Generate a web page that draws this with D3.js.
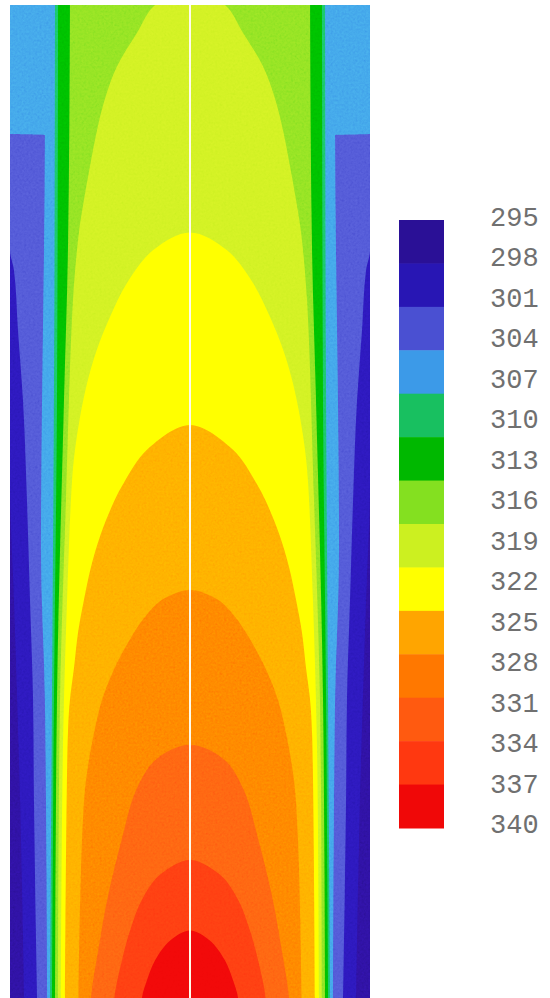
<!DOCTYPE html>
<html>
<head>
<meta charset="utf-8">
<script src="https://cdn.jsdelivr.net/npm/d3@7"></script>
<style>
  html, body { margin: 0; padding: 0; background: #fff; }
  svg { display: block; }
</style>
</head>
<body>
<div id="chart"></div>
<script>
// legend tick labels (temperature, K)
var tickLabels = [295, 298, 301, 304, 307, 310, 313, 316, 319, 322, 325, 328, 331, 334, 337, 340];

// colour bands, coldest first (as in the legend bar)
var bandColors = ["#2a1096", "#2816b4", "#4a50d2", "#3c9ae8", "#18c060", "#00b800", "#84e020",
                  "#ccf020", "#ffff00", "#ffa500", "#ff7800", "#ff5a10", "#ff3810", "#f00808"];

// contour edges: [z = axial position (0 top .. 100 bottom), r = half-width in % of channel]
// each edge bounds the region warmer than the band below it
var indigoEdge  = [[0, 100], [48, 100], [60, 97.8], [80, 94.4], [100, 92.2]];
var violetEdge  = [[0, 100], [24.7, 100], [26.7, 97.8], [32.7, 95.6], [39.8, 92.8], [49.8, 90.6], [59.9, 88.9], [70, 87.2], [80, 86.7], [100, 85]];
var skyEdge     = [[0, 100], [13, 100], [13.1, 80.6], [24.7, 81.1], [39.8, 82.2], [55, 82.8], [70, 80.6], [100, 79.4]];
var tealEdge    = [[0, 75], [39.8, 75.6], [70, 76.7], [100, 77.8]];
var greenEdge   = [[0, 73.3], [39.8, 73.9], [70, 75.6], [100, 76.7]];
var limeEdge    = [[0, 66.7], [24.7, 67.8], [39.8, 70], [70, 73.9], [100, 75]];
// domes (apex first)
var paleLimeEdge  = [[-1.3, 0], [0, 19.4], [2.8, 29.4], [6.2, 40.6], [9.6, 47.5], [12.9, 52], [16.3, 55.6], [19.6, 58.9], [22.9, 61.7], [29.7, 65], [49.8, 68.9], [70, 72.2], [100, 73.3]];
var yellowEdge    = [[22.9, 0], [24.7, 20.6], [28, 35], [31.4, 44.4], [34.7, 51.7], [38.1, 57.2], [41.5, 61.1], [44.8, 63.9], [48.1, 65.6], [59.9, 68.3], [75, 70.6], [100, 71.7]];
var amberEdge     = [[42.3, 0], [44.8, 23.9], [48.1, 36.7], [49.8, 41.7], [53.2, 49.4], [56.6, 55], [59.9, 58.9], [63.2, 62.2], [66.7, 64.4], [70, 66.7], [73.3, 67.8], [100, 69.4]];
var orangeEdge    = [[58.9, 0], [59.9, 15.6], [61.6, 25], [63.2, 31.1], [66.7, 41.7], [70, 48.9], [73.3, 53.3], [78.1, 57.8], [84.1, 60], [100, 62]];
var redOrangeEdge = [[74.5, 0], [76, 19], [79.1, 30], [84.1, 38], [90.1, 46], [95.2, 51], [100, 55]];
var scarletEdge   = [[86.1, 0], [87.6, 16.7], [90.1, 26.7], [93.2, 33.3], [96.2, 37.8], [100, 42]];
var redEdge       = [[93.2, 0], [94.2, 11], [96.2, 19.4], [98.2, 23.9], [100, 26.7]];

var wallEdges = [indigoEdge, violetEdge, skyEdge, tealEdge, greenEdge, limeEdge];
var domeEdges = [paleLimeEdge, yellowEdge, amberEdge, orangeEdge, redOrangeEdge, scarletEdge, redEdge];

var width = 550, height = 998;

var svg = d3.select("#chart").append("svg")
    .attr("width", width)
    .attr("height", height);

var xScale = d3.scaleLinear().domain([-100, 100]).range([10, 370]);
var yScale = d3.scaleLinear().domain([0, 100]).range([5, 998]);

var defs = svg.append("defs");
defs.append("clipPath").attr("id", "plot")
  .append("rect")
    .attr("x", xScale(-100))
    .attr("y", yScale(0))
    .attr("width", xScale(100) - xScale(-100))
    .attr("height", yScale(100) - yScale(0));

// speckle like the scanned original
var grain = defs.append("filter").attr("id", "grain")
    .attr("x", 0).attr("y", 0).attr("width", 1).attr("height", 1);
grain.append("feTurbulence")
    .attr("type", "fractalNoise")
    .attr("baseFrequency", 0.45)
    .attr("numOctaves", 2)
    .attr("seed", 7);
grain.append("feColorMatrix")
    .attr("type", "matrix")
    .attr("values", "0.33 0.33 0.33 0 0  0.33 0.33 0.33 0 0  0.33 0.33 0.33 0 0  0 0 0 0 1");

var field = svg.append("g").attr("clip-path", "url(#plot)");

// coldest band as background
field.append("rect")
    .attr("x", xScale(-100))
    .attr("y", yScale(0))
    .attr("width", xScale(100) - xScale(-100))
    .attr("height", yScale(100) - yScale(0))
    .attr("fill", bandColors[0]);

// wall-hugging bands: symmetric areas
var wallArea = d3.area()
    .curve(d3.curveMonotoneY)
    .y(function (d) { return yScale(d[0]); })
    .x0(function (d) { return xScale(-d[1]); })
    .x1(function (d) { return xScale(d[1]); });

field.selectAll("path.wall")
    .data(wallEdges)
  .enter().append("path")
    .attr("class", "wall")
    .attr("d", wallArea)
    .attr("fill", function (d, i) { return bandColors[i + 1]; });

// dome shaped bands: closed loop through mirrored edge
var domeLine = d3.line()
    .curve(d3.curveCatmullRom.alpha(0.5))
    .x(function (d) { return xScale(d[1]); })
    .y(function (d) { return yScale(d[0]); });

function domeLoop(pts) {
    var last = pts[pts.length - 1];
    var right = pts.concat([[last[0] + 3, last[1]]]);
    var left = right.slice().reverse().map(function (d) { return [d[0], -d[1]]; });
    return domeLine(left.slice(0, -1).concat(right)) + "Z";
}

field.selectAll("path.dome")
    .data(domeEdges)
  .enter().append("path")
    .attr("class", "dome")
    .attr("d", domeLoop)
    .attr("fill", function (d, i) { return bandColors[i + 1 + wallEdges.length]; });

field.append("rect")
    .attr("x", xScale(-100))
    .attr("y", yScale(0))
    .attr("width", xScale(100) - xScale(-100))
    .attr("height", yScale(100) - yScale(0))
    .attr("filter", "url(#grain)")
    .style("mix-blend-mode", "overlay")
    .attr("opacity", 0.35);

// symmetry axis
field.append("line")
    .attr("x1", xScale(0)).attr("x2", xScale(0))
    .attr("y1", yScale(0)).attr("y2", yScale(100))
    .attr("stroke", "#fffbea")
    .attr("stroke-width", 2);

// legend
var legend = svg.append("g");
var bandScale = d3.scaleBand()
    .domain(d3.range(bandColors.length))
    .range([220, 828]);

legend.selectAll("rect")
    .data(bandColors)
  .enter().append("rect")
    .attr("x", 399)
    .attr("y", function (d, i) { return bandScale(i); })
    .attr("width", 45)
    .attr("height", bandScale.bandwidth() + 0.5)
    .attr("fill", function (d) { return d; });

var labelScale = d3.scaleLinear()
    .domain([tickLabels[0], tickLabels[tickLabels.length - 1]])
    .range([226, 833]);

legend.selectAll("text")
    .data(tickLabels)
  .enter().append("text")
    .attr("x", 490)
    .attr("y", function (d) { return labelScale(d); })
    .style("font-family", "'Liberation Mono', 'DejaVu Sans Mono', monospace")
    .style("font-size", "27px")
    .style("fill", "#707070")
    .text(function (d) { return d; });
</script>
</body>
</html>
